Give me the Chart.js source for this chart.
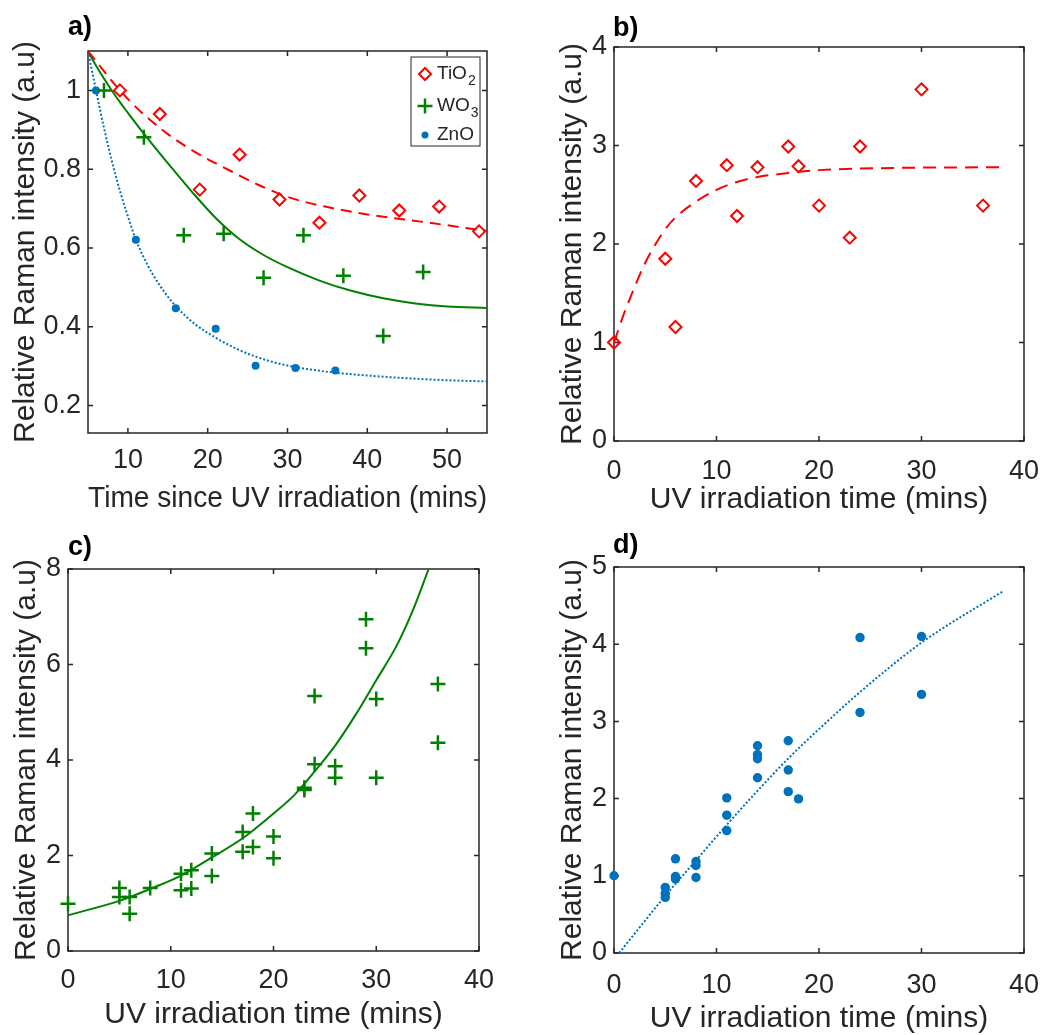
<!DOCTYPE html>
<html>
<head>
<meta charset="utf-8">
<title>Relative Raman intensity vs UV irradiation</title>
<script src="https://cdn.jsdelivr.net/npm/chart.js"></script>
<style>
  body { margin: 0; background: #fff; }
  #wrap { position: relative; width: 1051px; height: 1035px; }
  canvas { position: absolute; }
</style>
</head>
<body>
<div id="wrap">
  <canvas id="ca" width="525" height="520" style="left:0;top:0"></canvas>
  <canvas id="cb" width="526" height="520" style="left:525px;top:0"></canvas>
  <canvas id="cc" width="525" height="515" style="left:0;top:520px"></canvas>
  <canvas id="cd" width="526" height="515" style="left:525px;top:520px"></canvas>
</div>
<script>
// ---- panel a) decay after irradiation ----
const aTiO2X = [9, 14, 19, 24, 29, 34, 39, 44, 49, 54];
const aTiO2Y = [1.0, 0.94, 0.748, 0.837, 0.723, 0.664, 0.733, 0.695, 0.705, 0.642];
const aWO3X = [7, 12, 17, 22, 27, 32, 37, 42, 47];
const aWO3Y = [1.0, 0.881, 0.632, 0.636, 0.524, 0.632, 0.529, 0.376, 0.539];
const aZnOX = [6, 11, 16, 21, 26, 31, 36];
const aZnOY = [1.0, 0.621, 0.447, 0.395, 0.301, 0.295, 0.289];
// fitted curves
const aTiO2FitX = [5, 9, 11.5, 15, 18.8, 23, 26.8, 30.4, 34.7, 40, 47, 55];
const aTiO2FitY = [1.1, 1.0, 0.948, 0.889, 0.839, 0.794, 0.756, 0.727, 0.705, 0.685, 0.666, 0.643];
const aWO3FitX = [5, 6, 7, 8, 9, 10, 12, 15, 18, 21, 24, 27, 30, 34, 38, 42, 46, 50, 55];
const aWO3FitY = [1.1, 1.063, 1.03, 0.999, 0.97, 0.943, 0.89, 0.815, 0.743, 0.676, 0.622, 0.582, 0.551, 0.517, 0.491, 0.472, 0.459, 0.451, 0.4475];
const aZnOFitX = [5, 6, 7, 8, 9, 10, 11, 12, 13, 14.5, 16, 18.5, 21, 23.5, 26, 29, 32, 36, 40, 45, 50, 55];
const aZnOFitY = [1.1, 1.0, 0.905, 0.82, 0.745, 0.68, 0.621, 0.575, 0.537, 0.49, 0.452, 0.405, 0.372, 0.345, 0.324, 0.306, 0.294, 0.283, 0.276, 0.269, 0.264, 0.261];
const aXTicks = [10, 20, 30, 40, 50];
const aYTicks = [0.2, 0.4, 0.6, 0.8, 1];
const aYTickLabels = ['0.2', '0.4', '0.6', '0.8', '1'];
const legendNames = ['TiO', 'WO', 'ZnO'];
const legendSubs = ['2', '3', ''];

// ---- panel b) TiO2 ----
const bX = [0, 5, 6, 8, 11, 12, 14, 17, 18, 20, 23, 24, 30, 36];
const bY = [1.0, 1.85, 1.157, 2.64, 2.8, 2.284, 2.78, 2.99, 2.79, 2.39, 2.064, 2.99, 3.57, 2.39];
const bFitX = [0, 1, 2, 3, 4, 5, 6, 8, 10, 12, 14, 17, 20, 26, 38];
const bFitY = [1.0, 1.3, 1.56, 1.8, 1.99, 2.15, 2.27, 2.43, 2.55, 2.63, 2.68, 2.72, 2.75, 2.77, 2.78];

// ---- panel c) WO3 ----
const cX = [0, 5, 5, 6, 6, 8, 11, 11, 12, 12, 14, 14, 17, 17, 18, 18, 20, 20, 23, 23, 24, 24, 26, 26, 29, 29, 30, 30, 36, 36];
const cY = [0.99, 1.32, 1.13, 1.13, 0.78, 1.32, 1.62, 1.27, 1.69, 1.31, 2.04, 1.57, 2.49, 2.08, 2.88, 2.18, 2.4, 1.94, 3.42, 3.37, 5.34, 3.91, 3.87, 3.63, 6.95, 6.34, 5.28, 3.63, 5.59, 4.36];
const cFitX = [0, 5, 8, 11, 14, 17, 20, 22, 24, 26, 28, 30, 32, 33.5, 35.1];
const cFitY = [0.75, 1.05, 1.3, 1.58, 1.96, 2.36, 2.88, 3.26, 3.76, 4.3, 4.95, 5.67, 6.4, 7.1, 8.0];

// ---- panel d) ZnO ----
const dX = [0, 5, 5, 5, 6, 6, 6, 8, 8, 8, 11, 11, 11, 14, 14, 14, 14, 17, 17, 17, 18, 24, 24, 30, 30];
const dY = [1.0, 0.85, 0.77, 0.72, 1.22, 0.99, 0.96, 1.185, 1.134, 0.978, 2.01, 1.785, 1.586, 2.685, 2.569, 2.517, 2.27, 2.75, 2.37, 2.09, 1.996, 4.086, 3.116, 4.1, 3.35];
const dFitX = [0.5, 5, 8, 11, 14, 17, 20, 24, 30, 38];
const dFitY = [0, 0.74, 1.2, 1.66, 2.1, 2.52, 2.9, 3.38, 4.02, 4.69];

const xTicks40 = [0, 10, 20, 30, 40];
const bYTicks = [0, 1, 2, 3, 4];
const cYTicks = [0, 2, 4, 6, 8];
const dYTicks = [0, 1, 2, 3, 4, 5];

const RED = '#ff0000', GREEN = '#008000', BLUE = '#0072bd', AX = '#262626';
const FONT = '"Liberation Sans", Arial, sans-serif';
const yTitle = 'Relative Raman intensity (a.u)';
const xTitleUV = 'UV irradiation time (mins)';

function pts(xs, ys) { return xs.map((x, i) => ({x: x, y: ys[i]})); }

// box round the plot with inward ticks on all four sides, plus the panel letter
const frame = {
  id: 'frame',
  beforeDatasetsDraw(chart, args, o) {
    const {ctx, chartArea: a, scales: {x, y}} = chart;
    ctx.save();
    ctx.strokeStyle = AX;
    ctx.lineWidth = 1.5;
    ctx.strokeRect(a.left, a.top, a.right - a.left, a.bottom - a.top);
    ctx.beginPath();
    x.ticks.forEach(t => {
      const px = x.getPixelForValue(t.value);
      ctx.moveTo(px, a.bottom); ctx.lineTo(px, a.bottom - 5);
      ctx.moveTo(px, a.top); ctx.lineTo(px, a.top + 5);
    });
    y.ticks.forEach(t => {
      const py = y.getPixelForValue(t.value);
      ctx.moveTo(a.left, py); ctx.lineTo(a.left + 5, py);
      ctx.moveTo(a.right, py); ctx.lineTo(a.right - 5, py);
    });
    ctx.stroke();
    ctx.fillStyle = '#000';
    ctx.font = 'bold 27px ' + FONT;
    ctx.textBaseline = 'alphabetic';
    ctx.fillText(o.label, o.lx, o.ly);
    ctx.restore();
  }
};

// boxed legend of panel a, with subscripts
const boxLegend = {
  id: 'boxLegend',
  afterDatasetsDraw(chart, args, o) {
    if (!o.show) return;
    const ctx = chart.ctx;
    ctx.save();
    ctx.fillStyle = '#fff';
    ctx.fillRect(o.x, o.y, o.w, o.h);
    ctx.strokeStyle = AX;
    ctx.lineWidth = 1;
    ctx.strokeRect(o.x, o.y, o.w, o.h);
    legendNames.forEach((name, i) => {
      const ds = chart.data.datasets[i];
      const cy = o.rows[i];
      ctx.strokeStyle = ds.pointBorderColor;
      ctx.fillStyle = ds.pointBackgroundColor;
      ctx.lineWidth = ds.pointBorderWidth;
      Chart.helpers.drawPoint(ctx, {
        pointStyle: ds.pointStyle, rotation: 0,
        radius: o.radii[i], borderWidth: ds.pointBorderWidth
      }, o.mx, cy);
      ctx.fillStyle = AX;
      ctx.textBaseline = 'middle';
      ctx.font = '19px ' + FONT;
      ctx.fillText(name, o.tx, cy);
      const w = ctx.measureText(name).width;
      if (legendSubs[i]) {
        ctx.font = '14px ' + FONT;
        ctx.fillText(legendSubs[i], o.tx + w + 1, cy + 7);
      }
    });
    ctx.restore();
  }
};
Chart.register(frame, boxLegend);

function scatterSet(xs, ys, style, color, radius, fill) {
  const bw = style === 'circle' ? 0 : (style === 'cross' ? 2.5 : 2);
  return {
    data: pts(xs, ys), showLine: false, clip: false,
    pointStyle: style, pointRadius: radius, pointHoverRadius: radius,
    pointBorderColor: color, pointBackgroundColor: fill,
    pointBorderWidth: bw
  };
}
function fitSet(xs, ys, color, dash) {
  return {
    data: pts(xs, ys), showLine: true, clip: false,
    borderColor: color, borderWidth: 2, borderDash: dash,
    pointRadius: 0, cubicInterpolationMode: 'monotone', fill: false
  };
}

function makeChart(id, g, datasets, xr, yr, xt, yt, ytLabels, xTitle, extra) {
  const tickFont = {family: FONT, size: 27};
  return new Chart(document.getElementById(id), {
    type: 'scatter',
    data: {datasets: datasets},
    options: {
      responsive: false,
      animation: false,
      layout: {padding: {left: 0, top: g.T, right: g.W - g.R, bottom: 0}},
      plugins: {
        legend: {display: false},
        tooltip: {enabled: false},
        frame: {label: g.label, lx: g.lx, ly: g.ly},
        boxLegend: extra || {show: false}
      },
      scales: {
        x: {
          type: 'linear', min: xr[0], max: xr[1],
          grid: {display: false, drawTicks: false, tickLength: 0},
          border: {display: false},
          afterBuildTicks: s => { s.ticks = xt.map(v => ({value: v})); },
          afterFit: s => { s.height = g.H - g.B; s.paddingLeft = 0; s.paddingRight = 0; },
          ticks: {font: tickFont, color: AX, padding: g.xp, maxRotation: 0, autoSkip: false,
                  callback: v => String(v)},
          title: {display: true, text: xTitle, font: {family: FONT, size: 30, lineHeight: 1.0}, color: AX,
                  padding: {top: 0, bottom: g.xtp}}
        },
        y: {
          type: 'linear', min: yr[0], max: yr[1],
          grid: {display: false, drawTicks: false, tickLength: 0},
          border: {display: false},
          afterBuildTicks: s => { s.ticks = yt.map(v => ({value: v})); },
          afterFit: s => { s.width = g.L; s.paddingTop = 0; s.paddingBottom = 0; },
          ticks: {font: tickFont, color: AX, padding: 7, autoSkip: false,
                  callback: (v, i) => ytLabels ? ytLabels[i] : String(v)},
          title: {display: true, text: yTitle, font: {family: FONT, size: 30}, color: AX,
                  padding: {top: g.ytp, bottom: 0}}
        }
      }
    }
  });
}

// panel a
makeChart('ca', {W: 525, H: 520, L: 88, R: 487, T: 51, B: 433, label: 'a)', lx: 68, ly: 35, xp: 11, xtp: 6, ytp: 8},
  [
    scatterSet(aTiO2X, aTiO2Y, 'rectRot', RED, 6, 'rgba(0,0,0,0)'),
    scatterSet(aWO3X, aWO3Y, 'cross', GREEN, 7.5, 'rgba(0,0,0,0)'),
    scatterSet(aZnOX, aZnOY, 'circle', BLUE, 4, BLUE),
    fitSet(aTiO2FitX, aTiO2FitY, RED, [11, 7]),
    fitSet(aWO3FitX, aWO3FitY, GREEN, []),
    fitSet(aZnOFitX, aZnOFitY, BLUE, [2, 2])
  ],
  [5, 55], [0.13, 1.1], aXTicks, aYTicks, aYTickLabels,
  'Time since UV irradiation (mins)',
  {show: true, x: 411, y: 57, w: 69, h: 89, rows: [74, 106, 135], radii: [6, 7.5, 3.5], mx: 425, tx: 437});

// panel b
makeChart('cb', {W: 526, H: 520, L: 89, R: 499, T: 47, B: 441, label: 'b)', lx: 88, ly: 36, xp: 14, xtp: 5, ytp: 30},
  [
    scatterSet(bX, bY, 'rectRot', RED, 6, 'rgba(0,0,0,0)'),
    fitSet(bFitX, bFitY, RED, [13, 8])
  ],
  [0, 40], [0, 4], xTicks40, bYTicks, null, xTitleUV);

// panel c
makeChart('cc', {W: 525, H: 515, L: 68, R: 479, T: 49, B: 431, label: 'c)', lx: 68, ly: 35, xp: 13, xtp: 5, ytp: 9},
  [
    scatterSet(cX, cY, 'cross', GREEN, 7.5, 'rgba(0,0,0,0)'),
    fitSet(cFitX, cFitY, GREEN, [])
  ],
  [0, 40], [0, 8], xTicks40, cYTicks, null, xTitleUV);

// panel d
makeChart('cd', {W: 526, H: 515, L: 89, R: 499, T: 47, B: 433, label: 'd)', lx: 88, ly: 33, xp: 16, xtp: 1, ytp: 30},
  [
    scatterSet(dX, dY, 'circle', BLUE, 4.7, BLUE),
    fitSet(dFitX, dFitY, BLUE, [2, 2])
  ],
  [0, 40], [0, 5], xTicks40, dYTicks, null, xTitleUV);
</script>
</body>
</html>
